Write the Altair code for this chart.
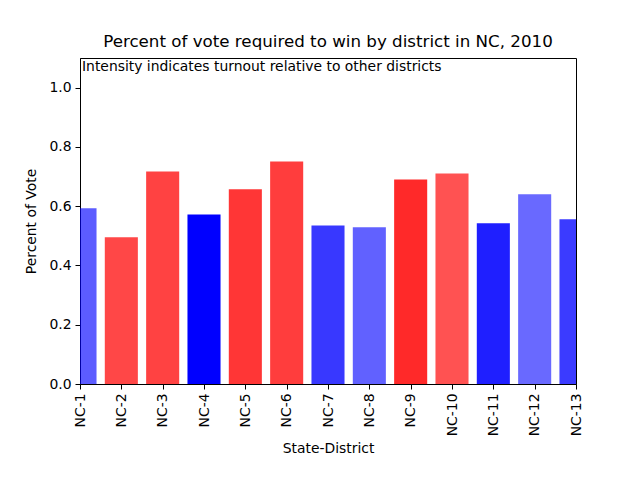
import altair as alt
import pandas as pd

districts = ["NC-1", "NC-2", "NC-3", "NC-4", "NC-5", "NC-6", "NC-7",
             "NC-8", "NC-9", "NC-10", "NC-11", "NC-12", "NC-13"]
vote_share = [0.593, 0.495, 0.717, 0.572, 0.657, 0.751, 0.535,
              0.529, 0.690, 0.710, 0.542, 0.640, 0.556]
party = ["D", "R", "R", "D", "R", "R", "D", "D", "R", "R", "D", "D", "D"]
turnout_intensity = [0.64, 0.72, 0.74, 1.0, 0.79, 0.76, 0.78,
                     0.62, 0.84, 0.68, 0.88, 0.59, 0.77]

df = pd.DataFrame({
    "district": districts,
    "idx": list(range(1, len(districts) + 1)),
    "share": vote_share,
    "party": party,
    "alpha": turnout_intensity,
})

FONT = "DejaVu Sans"

bars = alt.Chart(df).transform_calculate(
    x0="datum.idx - 0.4", x1="datum.idx + 0.4", base="0"
).mark_bar(clip=True).encode(
    x=alt.X("x0:Q",
            scale=alt.Scale(domain=[1, 13], nice=False, zero=False, padding=0),
            axis=alt.Axis(values=list(range(1, 14)),
                          labelExpr="'NC-' + datum.value",
                          labelAngle=270, labelAlign="right", labelBaseline="middle",
                          title="State-District", grid=False,
                          tickSize=5, tickColor="black", domainColor="black",
                          labelPadding=4, titlePadding=6)),
    x2="x1:Q",
    y=alt.Y("share:Q",
            scale=alt.Scale(domain=[0, 1.1], nice=False, padding=0),
            axis=alt.Axis(values=[0, 0.2, 0.4, 0.6, 0.8, 1.0], format=".1f",
                          title="Percent of Vote", grid=False,
                          tickSize=5, tickColor="black", domainColor="black",
                          labelPadding=4, titlePadding=10)),
    y2="base:Q",
    color=alt.Color("party:N",
                    scale=alt.Scale(domain=["D", "R"], range=["#0000ff", "#ff0000"]),
                    legend=None),
    opacity=alt.Opacity("alpha:Q", scale=None),
)

note = alt.Chart(pd.DataFrame({"t": ["Intensity indicates turnout relative to other districts"]})).mark_text(
    align="left", baseline="top", font=FONT, fontSize=13.9, color="black"
).encode(x=alt.value(2), y=alt.value(2), text="t:N")

chart = alt.layer(bars, note).properties(
    width=496, height=326,
    autosize=alt.AutoSizeParams(type="none"),
    padding={"left": 72, "top": 50, "right": 56, "bottom": 88},
    title=alt.Title("Percent of vote required to win by district in NC, 2010",
                    font=FONT, fontSize=16.7, fontWeight="normal", color="black",
                    offset=7),
).configure_axis(
    labelFont=FONT, titleFont=FONT, labelFontSize=13.9, titleFontSize=13.9,
    labelColor="black", titleColor="black", titleFontWeight="normal",
).configure_view(stroke="black", strokeWidth=1)

chart.save("out.html", embed_options={"renderer": "svg", "actions": False})
